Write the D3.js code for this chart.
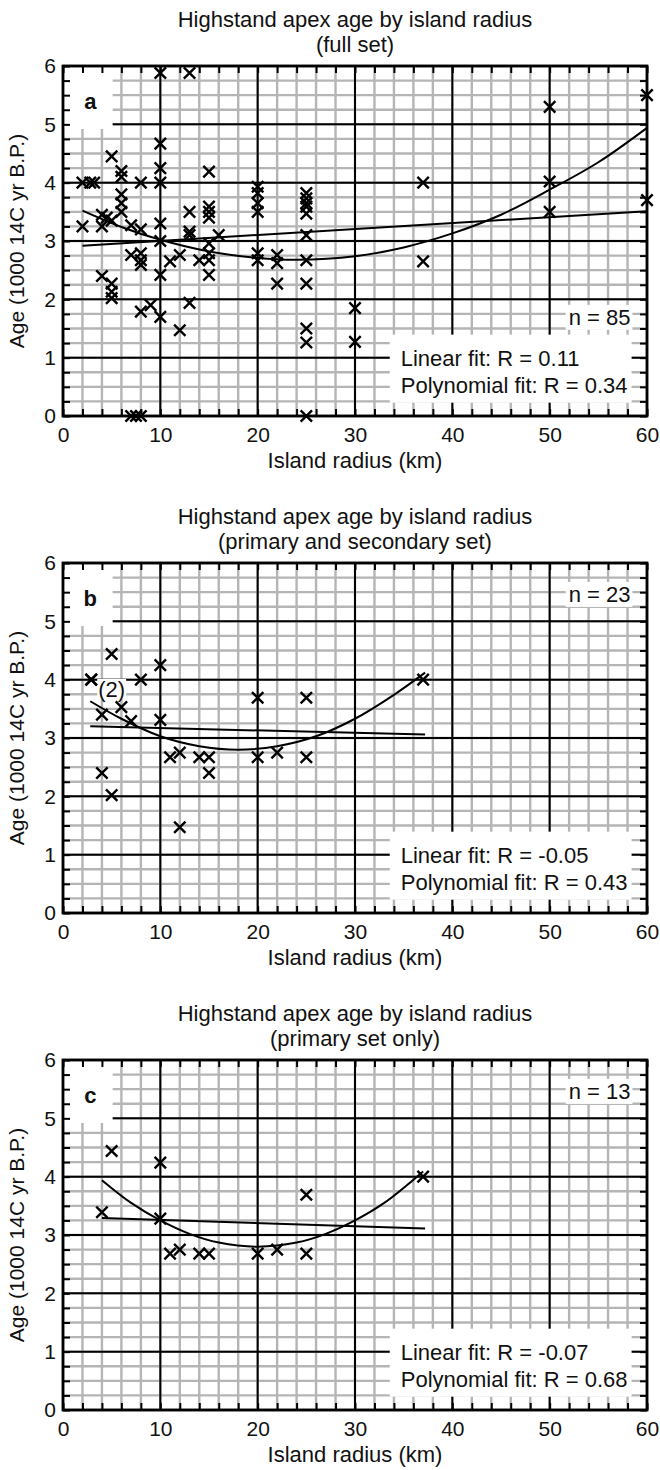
<!DOCTYPE html>
<html>
<head>
<meta charset="utf-8">
<script src="https://cdn.jsdelivr.net/npm/d3@7"></script>
<style>
  body { margin: 0; background: #fff; }
  text { font-family: "Liberation Sans", Arial, Helvetica, sans-serif; fill: #111; }
</style>
</head>
<body>
<svg id="chart" width="660" height="1470"></svg>
<script>
// ---- data ----
// panel a: full set (n = 85)
var radiusA = [2, 2, 2.8, 3.2, 4, 4, 4, 4.5, 5, 5, 5, 5, 5, 6, 6, 6, 6, 6,
  7, 8, 7, 8, 8, 8, 8, 8, 9, 7, 7.5, 8, 10, 10, 10, 10, 10, 10, 10, 10,
  11, 12, 12, 13, 13, 13, 13, 13, 14, 15, 15, 15, 15, 15, 15, 15, 15, 16,
  20, 20, 20, 20, 20, 20, 22, 22, 22, 25, 25, 25, 25, 25, 25, 25, 25, 25, 25, 25,
  30, 30, 37, 37, 50, 50, 50, 60, 60];
var ageA = [3.25, 4.0, 4.0, 4.0, 2.4, 3.25, 3.45, 3.4, 3.35, 4.45, 2.27, 2.13, 2.02,
  4.2, 4.1, 3.8, 3.65, 3.5, 3.27, 3.2, 2.76, 2.79, 2.67, 2.59, 4.0, 1.79, 1.9,
  0, 0, 0, 5.88, 4.67, 4.25, 4.0, 3.3, 3.0, 2.42, 1.7, 2.65, 2.76, 1.47,
  5.88, 3.5, 3.16, 3.1, 1.94, 2.67, 4.19, 3.59, 3.5, 3.4, 2.96, 2.79, 2.67, 2.42, 3.1,
  3.93, 3.82, 3.65, 3.5, 2.79, 2.67, 2.76, 2.62, 2.27,
  3.82, 3.73, 3.65, 3.59, 3.47, 3.1, 2.67, 2.27, 1.5, 1.26, 0,
  1.85, 1.27, 4.0, 2.65, 5.3, 4.02, 3.5, 5.5, 3.7];
var linXA = [2, 60], linYA = [2.92, 3.51];
var polyXA = [2, 6, 10, 15, 20, 24, 30, 35, 40, 45, 50, 55, 60];
var polyYA = [3.52, 3.24, 3.02, 2.82, 2.71, 2.68, 2.74, 2.89, 3.13, 3.45, 3.88, 4.35, 4.94];

// panel b: primary and secondary set (n = 23)
var radiusB = [2.9, 2.9, 5, 8, 10, 4, 6, 7, 10, 20, 25, 37, 4, 5, 11, 12, 12, 14, 15, 15, 20, 22, 25];
var ageB = [4.0, 4.0, 4.44, 4.0, 4.25, 3.4, 3.53, 3.29, 3.31, 3.69, 3.69, 4.0,
  2.4, 2.02, 2.67, 2.75, 1.47, 2.67, 2.67, 2.4, 2.67, 2.75, 2.67];
var linXB = [2.8, 37.2], linYB = [3.2, 3.06];
var polyXB = [2.8, 6, 10, 14, 18, 22, 26, 30, 34, 37.2];
var polyYB = [3.63, 3.33, 3.03, 2.86, 2.80, 2.86, 3.03, 3.33, 3.74, 4.12];

// panel c: primary set only (n = 13)
var radiusC = [5, 10, 4, 10, 25, 37, 11, 12, 14, 15, 20, 22, 25];
var ageC = [4.44, 4.24, 3.39, 3.28, 3.69, 4.0, 2.68, 2.75, 2.68, 2.68, 2.68, 2.75, 2.68];
var linXC = [4, 37.2], linYC = [3.29, 3.11];
var polyXC = [4, 7, 10, 13, 16, 20, 24, 27, 30, 33, 37];
var polyYC = [3.94, 3.55, 3.25, 3.02, 2.87, 2.80, 2.87, 3.02, 3.25, 3.55, 4.09];

var titleMain = 'Highstand apex age by island radius';
var subtitles = ['(full set)', '(primary and secondary set)', '(primary set only)'];
var letters = ['a', 'b', 'c'];
var nLabels = ['n = 85', 'n = 23', 'n = 13'];
var legends = [
  ['Linear fit: R = 0.11', 'Polynomial fit: R = 0.34'],
  ['Linear fit: R = -0.05', 'Polynomial fit: R = 0.43'],
  ['Linear fit: R = -0.07', 'Polynomial fit: R = 0.68']
];
var xMinor = d3.range(0, 61, 2);
var yMinor = d3.range(0, 6.001, 0.25);
var xMajor = [10, 20, 30, 40, 50];
var yMajor = [1, 2, 3, 4, 5];

// ---- layout ----
var plotLeft = 63, plotRight = 647, plotH = 350;
var panelTops = [66, 563, 1060];
var nAt = [1.70, 5.47, 5.47];   // vertical position (data units) of the n label

var panels = [
  { xs: radiusA, ys: ageA, linX: linXA, linY: linYA, polyX: polyXA, polyY: polyYA },
  { xs: radiusB, ys: ageB, linX: linXB, linY: linYB, polyX: polyXB, polyY: polyYB, note: '(2)' },
  { xs: radiusC, ys: ageC, linX: linXC, linY: linYC, polyX: polyXC, polyY: polyYC }
];

var svg = d3.select('#chart');
var x = d3.scaleLinear().domain([0, 60]).range([plotLeft, plotRight]);

var crossSym = {
  draw: function(ctx, size) {
    var r = Math.sqrt(size) / 2;
    ctx.moveTo(-r, -r); ctx.lineTo(r, r);
    ctx.moveTo(-r, r); ctx.lineTo(r, -r);
  }
};

function whiteBehind(boxG, node, padL, padR, padT, padB) {
  var b = node.getBBox();
  boxG.append('rect')
    .attr('x', b.x - padL).attr('y', b.y - padT)
    .attr('width', b.width + padL + padR).attr('height', b.height + padT + padB)
    .attr('fill', '#fff');
}

function styleAxis(sel) {
  sel.select('.domain').remove();
  sel.selectAll('.tick line').attr('stroke', '#000').attr('stroke-width', 2);
  sel.selectAll('.tick text').attr('font-size', 21).attr('fill', '#111')
    .attr('font-family', '"Liberation Sans", Arial, sans-serif');
}

panels.forEach(function(p, i) {
  var top = panelTops[i];
  var y = d3.scaleLinear().domain([0, 6]).range([top + plotH, top]);
  var g = svg.append('g');
  var gridG = g.append('g'), boxG = g.append('g'), axisG = g.append('g'),
      fitG = g.append('g'), ptG = g.append('g'), txtG = g.append('g');

  // grey minor grid
  gridG.selectAll('.vmin').data(xMinor).enter().append('line')
    .attr('x1', function(d) { return x(d); }).attr('x2', function(d) { return x(d); })
    .attr('y1', y(0)).attr('y2', y(6))
    .attr('stroke', '#b5b5b5').attr('stroke-width', 2.4);
  gridG.selectAll('.hmin').data(yMinor).enter().append('line')
    .attr('y1', function(d) { return y(d); }).attr('y2', function(d) { return y(d); })
    .attr('x1', x(0)).attr('x2', x(60))
    .attr('stroke', '#b5b5b5').attr('stroke-width', 2.4);
  // black major grid
  gridG.selectAll('.vmaj').data(xMajor).enter().append('line')
    .attr('x1', function(d) { return x(d); }).attr('x2', function(d) { return x(d); })
    .attr('y1', y(0)).attr('y2', y(6))
    .attr('stroke', '#000').attr('stroke-width', 2);
  gridG.selectAll('.hmaj').data(yMajor).enter().append('line')
    .attr('y1', function(d) { return y(d); }).attr('y2', function(d) { return y(d); })
    .attr('x1', x(0)).attr('x2', x(60))
    .attr('stroke', '#000').attr('stroke-width', 2);

  // white patch behind the panel letter
  boxG.append('rect')
    .attr('x', x(0)).attr('y', y(5.97))
    .attr('width', x(5.1) - x(0)).attr('height', y(4.92) - y(5.97))
    .attr('fill', '#fff');

  // axes with inward ticks
  axisG.append('g').attr('transform', 'translate(0,' + y(0) + ')')
    .call(d3.axisBottom(x).tickValues(xMinor).tickSize(-7).tickPadding(11)
      .tickFormat(function(d) { return d % 10 === 0 ? d : ''; }))
    .call(styleAxis);
  axisG.append('g').attr('transform', 'translate(0,' + y(6) + ')')
    .call(d3.axisTop(x).tickValues(xMinor).tickSize(-7).tickFormat(''))
    .call(styleAxis);
  axisG.append('g').attr('transform', 'translate(' + x(0) + ',0)')
    .call(d3.axisLeft(y).tickValues(yMinor).tickSize(-7).tickPadding(7)
      .tickFormat(function(d) { return d % 1 === 0 ? d : ''; }))
    .call(styleAxis);
  axisG.append('g').attr('transform', 'translate(' + x(60) + ',0)')
    .call(d3.axisRight(y).tickValues(yMinor).tickSize(-7).tickFormat(''))
    .call(styleAxis);
  axisG.append('rect')
    .attr('x', x(0)).attr('y', y(6))
    .attr('width', x(60) - x(0)).attr('height', y(0) - y(6))
    .attr('fill', 'none').attr('stroke', '#000').attr('stroke-width', 2.8);

  // fit lines
  var line = d3.line()
    .x(function(d) { return x(d[0]); })
    .y(function(d) { return y(d[1]); });
  fitG.append('path').datum(d3.zip(p.linX, p.linY))
    .attr('d', line).attr('fill', 'none').attr('stroke', '#000').attr('stroke-width', 2);
  fitG.append('path').datum(d3.zip(p.polyX, p.polyY))
    .attr('d', line.curve(d3.curveCatmullRom)).attr('fill', 'none')
    .attr('stroke', '#000').attr('stroke-width', 2);

  // points
  ptG.selectAll('path').data(d3.zip(p.xs, p.ys)).enter().append('path')
    .attr('transform', function(d) { return 'translate(' + x(d[0]) + ',' + y(d[1]) + ')'; })
    .attr('d', d3.symbol().type(crossSym).size(130))
    .attr('fill', 'none').attr('stroke', '#000').attr('stroke-width', 2.4);

  // titles
  var cx = (plotLeft + plotRight) / 2;
  txtG.append('text').attr('x', cx).attr('y', top - 39)
    .attr('text-anchor', 'middle').attr('font-size', 22).text(titleMain);
  txtG.append('text').attr('x', cx).attr('y', top - 14)
    .attr('text-anchor', 'middle').attr('font-size', 22).text(subtitles[i]);
  txtG.append('text').attr('x', cx).attr('y', y(0) + 52)
    .attr('text-anchor', 'middle').attr('font-size', 22).text('Island radius (km)');
  txtG.append('text')
    .attr('transform', 'translate(24,' + (top + plotH / 2) + ') rotate(-90)')
    .attr('text-anchor', 'middle').attr('font-size', 21).text('Age (1000 14C yr B.P.)');

  // panel letter
  txtG.append('text').attr('x', x(2.8)).attr('y', y(5.27))
    .attr('text-anchor', 'middle').attr('font-size', 22).attr('font-weight', 'bold')
    .text(letters[i]);

  // n label
  var nText = txtG.append('text').attr('x', x(58.3)).attr('y', y(nAt[i]) + 8)
    .attr('text-anchor', 'end').attr('font-size', 22).text(nLabels[i]);
  whiteBehind(boxG, nText.node(), 3, 2, 0, 0);

  // fit legend
  var leg = txtG.append('g');
  legends[i].forEach(function(s, k) {
    leg.append('text').attr('x', x(34.7)).attr('y', y(1) + 8 + k * 27)
      .attr('font-size', 22).text(s);
  });
  whiteBehind(boxG, leg.node(), 11, 4, 11, 5);

  if (p.note) {
    var note = txtG.append('text').attr('x', x(5)).attr('y', y(3.84) + 8)
      .attr('text-anchor', 'middle').attr('font-size', 22).text(p.note);
    whiteBehind(boxG, note.node(), 1, 1, -2, -3);
  }
});
</script>
</body>
</html>
